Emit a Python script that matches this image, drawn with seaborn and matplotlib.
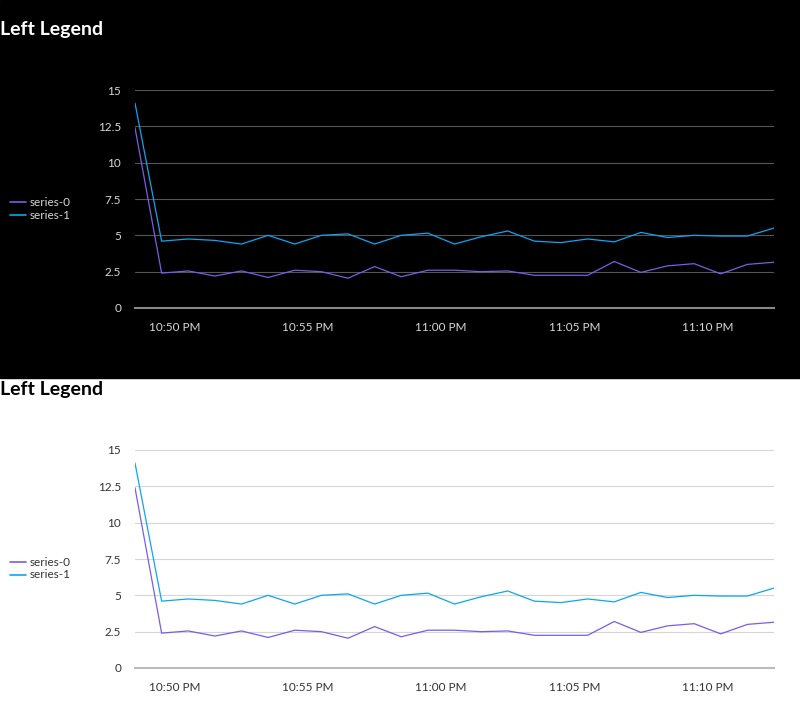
import pandas as pd
import numpy as np
import matplotlib.pyplot as plt
import matplotlib.dates as mdates
import seaborn as sns

times = pd.date_range("2024-01-01 22:48:30", periods=25, freq="1min")
series_0 = [12.4, 2.4, 2.55, 2.2, 2.55, 2.1, 2.6, 2.5, 2.05, 2.85, 2.15, 2.6, 2.6,
            2.5, 2.55, 2.25, 2.25, 2.25, 3.2, 2.45, 2.9, 3.05, 2.35, 3.0, 3.15]
series_1 = [14.1, 4.6, 4.75, 4.65, 4.4, 5.0, 4.4, 5.0, 5.1, 4.4, 5.0, 5.15, 4.4,
            4.9, 5.3, 4.6, 4.5, 4.75, 4.55, 5.2, 4.85, 5.0, 4.95, 4.95, 5.5]
yticks = [0, 2.5, 5, 7.5, 10, 12.5, 15]
ytick_labels = ["0", "2.5", "5", "7.5", "10", "12.5", "15"]

df = pd.DataFrame({"time": list(times) * 2,
                   "value": series_0 + series_1,
                   "series": ["series-0"] * 25 + ["series-1"] * 25})

sns.set_theme(style="white")
plt.rcParams['font.family'] = ['Lato', 'DejaVu Sans']

W, H = 800, 719
fig = plt.figure(figsize=(8, 7.19), dpi=100)
fig.patch.set_facecolor("white")
# black background for the dark panel
fig.patches.append(plt.Rectangle((0, 1 - 378 / H), 1, 378 / H,
                                 transform=fig.transFigure, color="black", zorder=-10))
palette = {"series-0": "#7b5ce6", "series-1": "#0ea5f0"}

def panel(top, dark):
    bg = "black" if dark else "white"
    fg = "white" if dark else "black"
    txt = "#d8d8d8" if dark else "#333333"
    grid = "#555555" if dark else "#d6d6d6"
    fig.text(0, 1 - (top + 30) / H, "Left Legend", color=fg, fontsize=14,
             fontweight="bold", va="center", ha="left")
    ax = fig.add_axes([135 / W, 1 - (top + 308) / H, (774 - 135) / W, 218 / H])
    ax.set_facecolor(bg)
    sns.lineplot(data=df, x="time", y="value", hue="series", palette=palette,
                 linewidth=0.9, ax=ax, legend=False)
    ax.set_ylim(0, 15)
    ax.set_xlim(times[0], times[-1])
    ax.set_yticks(yticks)
    ax.set_yticklabels(ytick_labels)
    ax.xaxis.set_major_locator(mdates.MinuteLocator(byminute=range(0, 60, 5)))
    ax.xaxis.set_major_formatter(mdates.DateFormatter("%-I:%M %p"))
    ax.tick_params(colors=txt, labelsize=8.5, length=0, pad=10)
    ax.tick_params(axis="x", length=5, color=grid, pad=5)
    ax.grid(axis="y", color=grid, linewidth=0.8)
    ax.set_xlabel("")
    ax.set_ylabel("")
    for s in ["top", "right", "left"]:
        ax.spines[s].set_visible(False)
    ax.spines["bottom"].set_color("#888888" if dark else "#bbbbbb")
    ax.spines["bottom"].set_linewidth(1.5)
    for i, (name, c) in enumerate(palette.items()):
        y = 1 - (top + 202 + 13 * i) / H
        fig.lines.append(plt.Line2D([10 / W, 26 / W], [y, y], color=c, linewidth=1.2,
                                    transform=fig.transFigure))
        fig.text(30 / W, y, name, color=txt, fontsize=8.5, va="center")

panel(0, True)
panel(360, False)
fig.savefig("out.png", dpi=100)
